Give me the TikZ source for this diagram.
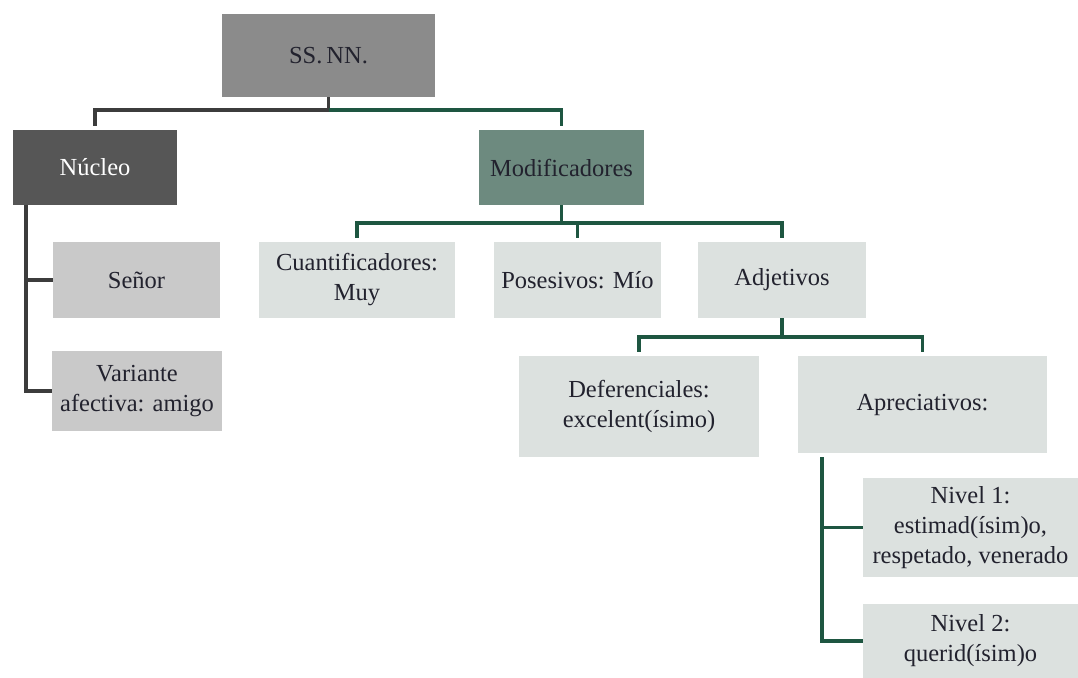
\documentclass[tikz,border=0pt]{standalone}
\usepackage{fontspec}
\setmainfont{Liberation Serif}
\definecolor{ssfill}{HTML}{8B8B8B}
\definecolor{nucfill}{HTML}{565656}
\definecolor{modfill}{HTML}{6D8A7F}
\definecolor{greyfill}{HTML}{C9C9C9}
\definecolor{lightfill}{HTML}{DCE1DF}
\definecolor{darkln}{HTML}{3C3C3C}
\definecolor{greenln}{HTML}{1E5641}
\definecolor{txt}{HTML}{22222E}
\tikzset{
  box/.style={rectangle, inner sep=0pt, align=center, text=txt,
    font=\fontsize{24.5}{30}\selectfont},
  darkline/.style={draw=darkln, line width=3.2pt},
  greenline/.style={draw=greenln, line width=3.2pt},
  gap/.style={shorten >=4pt}
}
\begin{document}
\begin{tikzpicture}[x=1pt,y=-1pt]
\useasboundingbox (0,0) rectangle (1078,677);
\clip (0,0) rectangle (1078,677);
% nodes
\node[box, fill=ssfill, minimum width=213pt, minimum height=83pt] (ss) at (328.5,55.5) {SS.\,NN.};
\node[box, fill=nucfill, text=white, minimum width=164pt, minimum height=75pt] (nuc) at (95,167.5) {Núcleo};
\node[box, fill=modfill, minimum width=165pt, minimum height=75pt] (mod) at (561.5,167.5) {Modificadores};
\node[box, fill=greyfill, minimum width=167pt, minimum height=76pt] (sen) at (136.5,280) {Señor};
\node[box, fill=greyfill, minimum width=170pt, minimum height=80pt] (var) at (137,391) {Variante\\afectiva: amigo};
\node[box, fill=lightfill, minimum width=196pt, minimum height=76pt] (cua) at (357,280) {Cuantificadores:\\Muy};
\node[box, fill=lightfill, minimum width=167pt, minimum height=76pt] (pos) at (577.5,280) {Posesivos: Mío};
\node[box, fill=lightfill, minimum width=168pt, minimum height=76pt] (adj) at (782,280) {Adjetivos};
\node[box, fill=lightfill, minimum width=240pt, minimum height=101pt] (def) at (639,406.5) {Deferenciales:\\excelent(ísimo)};
\node[box, fill=lightfill, minimum width=249pt, minimum height=97pt] (apr) at (922.5,404.5) {Apreciativos:};
\node[box, fill=lightfill, minimum width=215pt, minimum height=99pt] (n1) at (970.5,527.5) {Nivel 1:\\estimad(ísim)o,\\respetado, venerado};
\node[box, fill=lightfill, minimum width=215pt, minimum height=74pt] (n2) at (970.5,641) {Nivel 2:\\querid(ísim)o};
% connectors from SS.NN.
\coordinate (j0) at (328.5,110);
\draw[darkline] (ss.south) -- (j0);
\draw[darkline, gap] (j0) -| (nuc.north);
\draw[greenline, gap] (j0) -| (mod.north);
% Núcleo children
\coordinate (nv) at (26,205);
\draw[darkline] (nv) |- (sen.west);
\draw[darkline] (nv) |- (var.west);
% Modificadores children
\coordinate (mj) at (561.5,223);
\draw[greenline] (mod.south) -- (mj);
\draw[greenline, gap] (mj) -| (cua.north);
\draw[greenline, gap] (mj) -| (adj.north);
\draw[greenline, gap] (pos.north |- mj) -- (pos.north);
% Adjetivos children
\coordinate (aj) at (782,337);
\draw[greenline] (adj.south) -- (aj);
\draw[greenline, gap] (aj) -| (def.north);
\draw[greenline, gap] (aj) -| (apr.north);
% Apreciativos children
\coordinate (av) at (822,457);
\draw[greenline] (av) |- (n1.west);
\draw[greenline] (av) |- (n2.west);
\end{tikzpicture}
\end{document}
